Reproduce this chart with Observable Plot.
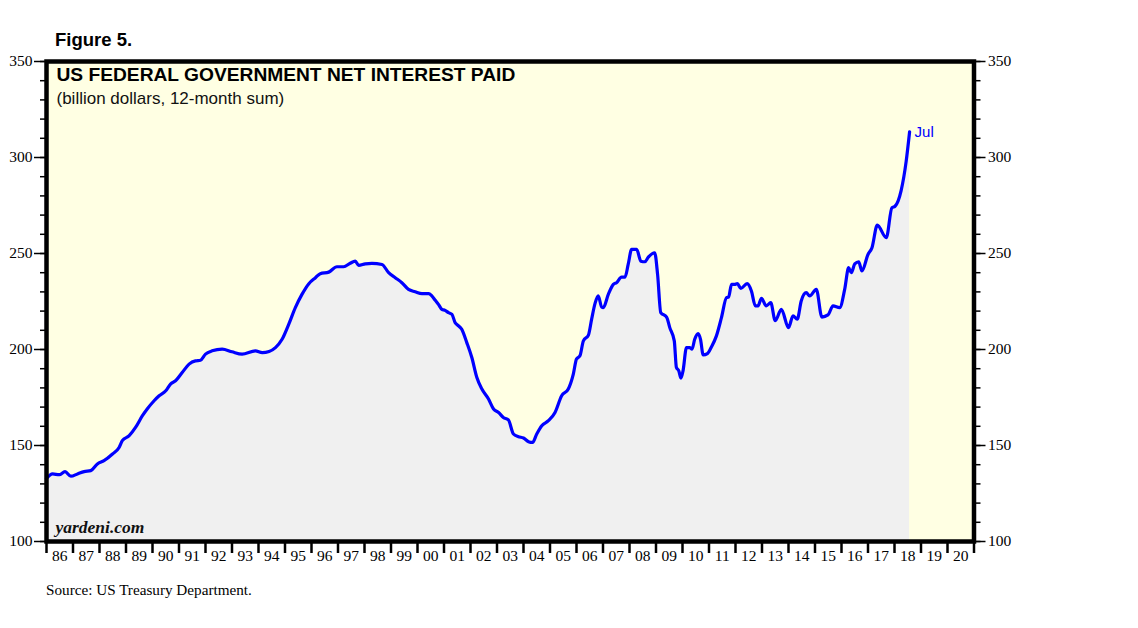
<!DOCTYPE html>
<html>
<head>
<meta charset="utf-8">
<script src="https://cdn.jsdelivr.net/npm/d3@7"></script>
<script src="https://cdn.jsdelivr.net/npm/@observablehq/plot@0.6"></script>
<style>
  html, body { margin: 0; padding: 0; background: white; }
  #wrap { position: relative; width: 1138px; height: 628px; }
  #fig { position: absolute; left: 55px; top: 31px; font: bold 18.5px "Liberation Sans", Arial, sans-serif; line-height: 1; color: #000; }
  #chart { position: absolute; left: 0; top: 0; }
  #source { position: absolute; left: 46px; top: 582px; font: 15.2px "Liberation Serif", "Times New Roman", serif; line-height: 1; color: #000; }
</style>
</head>
<body>
<div id="wrap">
  <div id="chart"></div>
  <div id="fig">Figure 5.</div>
  <div id="source">Source: US Treasury Department.</div>
</div>
<script>
// Decimal year of each reading
const years = [
  1986.00, 1986.23, 1986.48, 1986.70, 1986.92, 1987.17, 1987.42, 1987.67, 1987.92, 1988.17,
  1988.49, 1988.74, 1988.86, 1989.12, 1989.36, 1989.62, 1989.80, 1990.06, 1990.25, 1990.50,
  1990.68, 1990.87, 1991.12, 1991.38, 1991.62, 1991.81, 1992.00, 1992.25, 1992.63, 1993.00,
  1993.38, 1993.88, 1994.14, 1994.40, 1994.64, 1994.89, 1995.14, 1995.39, 1995.64, 1995.90,
  1996.15, 1996.33, 1996.65, 1996.96, 1997.21, 1997.46, 1997.65, 1997.78, 1998.03, 1998.28,
  1998.66, 1998.91, 1999.16, 1999.41, 1999.66, 1999.91, 2000.17, 2000.42, 2000.54, 2000.67,
  2000.79, 2000.92, 2001.04, 2001.17, 2001.30, 2001.42, 2001.48, 2001.67, 2001.86, 2002.05,
  2002.24, 2002.43, 2002.68, 2002.87, 2003.06, 2003.24, 2003.43, 2003.62, 2003.81, 2004.00,
  2004.19, 2004.34, 2004.50, 2004.69, 2004.94, 2005.19, 2005.44, 2005.69, 2005.88, 2006.00,
  2006.13, 2006.26, 2006.45, 2006.57, 2006.70, 2006.82, 2006.95, 2007.01, 2007.20, 2007.39,
  2007.51, 2007.70, 2007.83, 2007.95, 2008.08, 2008.27, 2008.43, 2008.58, 2008.71, 2008.95,
  2009.06, 2009.18, 2009.40, 2009.52, 2009.69, 2009.77, 2009.86, 2009.94, 2010.02, 2010.15,
  2010.27, 2010.36, 2010.46, 2010.59, 2010.68, 2010.78, 2010.94, 2011.09, 2011.28, 2011.47,
  2011.66, 2011.74, 2011.85, 2011.97, 2012.07, 2012.20, 2012.44, 2012.60, 2012.75, 2012.85,
  2012.98, 2013.16, 2013.33, 2013.50, 2013.73, 2014.00, 2014.17, 2014.33, 2014.48, 2014.67,
  2014.80, 2015.05, 2015.26, 2015.49, 2015.68, 2015.93, 2016.12, 2016.27, 2016.37, 2016.50,
  2016.65, 2016.77, 2017.00, 2017.15, 2017.35, 2017.69, 2017.90, 2018.02, 2018.25, 2018.44,
  2018.57
];
// Net interest paid, billion dollars, 12-month sum
const values = [
  132.8, 135.2, 134.8, 136.4, 134.0, 135.2, 136.4, 136.9, 140.4, 142.1,
  145.6, 149.0, 152.5, 155.1, 159.4, 165.5, 169.0, 173.3, 175.9, 178.5,
  182.0, 183.7, 188.0, 192.4, 194.1, 194.4, 197.6, 199.3, 200.2, 198.8,
  197.6, 199.3, 198.4, 199.0, 201.0, 205.3, 213.1, 221.8, 228.7, 234.3,
  237.4, 239.5, 240.3, 243.1, 243.1, 244.9, 246.0, 243.8, 244.6, 244.9,
  244.3, 240.0, 237.4, 234.8, 231.3, 230.1, 229.1, 229.1, 227.9, 225.6,
  223.5, 220.9, 220.4, 219.2, 218.3, 214.0, 213.1, 210.5, 203.6, 195.8,
  185.4, 179.4, 174.2, 169.0, 167.2, 164.6, 163.3, 156.0, 154.6, 153.9,
  152.0, 151.6, 156.0, 160.3, 162.9, 167.2, 175.9, 179.4, 187.2, 195.0,
  196.7, 204.5, 207.5, 215.7, 224.0, 227.9, 222.1, 221.8, 228.7, 233.9,
  234.8, 237.7, 237.7, 244.3, 252.1, 252.1, 246.0, 245.7, 248.1, 250.4,
  239.1, 219.2, 216.9, 211.4, 204.5, 190.6, 188.9, 185.1, 188.9, 201.0,
  201.0, 200.2, 205.3, 208.3, 205.3, 197.2, 197.9, 201.3, 207.1, 216.6,
  227.0, 227.3, 233.9, 233.9, 234.3, 231.8, 234.3, 230.5, 222.7, 222.7,
  226.7, 222.7, 224.4, 215.0, 220.9, 211.4, 217.5, 215.8, 225.3, 229.6,
  227.9, 231.3, 216.9, 218.0, 222.7, 221.8, 231.3, 242.6, 240.0, 244.6,
  245.7, 240.9, 249.5, 253.0, 264.8, 258.2, 273.8, 274.6, 282.8, 298.0,
  313.4
];
const lastLabel = "Jul";
const yMajor = [100, 150, 200, 250, 300, 350];
const yMinor = d3.range(100, 351, 10);
const xBoundaries = d3.range(1986, 2022);
const xLabelYears = d3.range(1986, 2021);

const data = years.map((x, i) => ({year: x, value: values[i]}));
const last = data[data.length - 1];

const serif = "Liberation Serif, Times New Roman, serif";
const sans = "Liberation Sans, Arial, sans-serif";

const chart = Plot.plot({
  width: 1138,
  height: 575,
  marginTop: 61,
  marginBottom: 34,
  marginLeft: 46,
  marginRight: 164.5,
  style: {fontFamily: serif, fontSize: "15px", color: "#000", background: "transparent", overflow: "visible"},
  x: {domain: [1986, 2021], label: null},
  y: {domain: [100, 350], label: null},
  marks: [
    Plot.frame({fill: "#ffffe3", stroke: null}),
    Plot.areaY(data, {x: "year", y1: 100, y2: "value", fill: "#f0f0f0", curve: "monotone-x"}),
    Plot.lineY(data, {x: "year", y: "value", stroke: "#0000ff", strokeWidth: 3.2, strokeLinejoin: "round", curve: "monotone-x"}),
    Plot.text([lastLabel], {x: last.year, y: last.value, dx: 5, textAnchor: "start", fill: "#0000ff", fontFamily: sans, fontSize: 15}),
    Plot.text(["US FEDERAL GOVERNMENT NET INTEREST PAID"], {frameAnchor: "top-left", dx: 10, dy: 6, lineAnchor: "top", textAnchor: "start", fontFamily: sans, fontWeight: "bold", fontSize: 19.2, fill: "#000"}),
    Plot.text(["(billion dollars, 12-month sum)"], {frameAnchor: "top-left", dx: 10, dy: 30, lineAnchor: "top", textAnchor: "start", fontFamily: sans, fontSize: 17, fill: "#111"}),
    Plot.text(["yardeni.com"], {frameAnchor: "bottom-left", dx: 9, dy: -9, lineAnchor: "bottom", textAnchor: "start", fontFamily: serif, fontWeight: "bold", fontStyle: "italic", fontSize: 17.5, fill: "#111"}),
    // Y axes, left and right
    Plot.axisY({anchor: "left", ticks: yMinor, tickSize: 6, tickFormat: () => "", strokeWidth: 1.5, label: null}),
    Plot.axisY({anchor: "left", ticks: yMajor, tickSize: 12, tickPadding: 2, strokeWidth: 1.5, label: null, fontSize: 15.5}),
    Plot.axisY({anchor: "right", ticks: yMinor, tickSize: 6, tickFormat: () => "", strokeWidth: 1.5, label: null}),
    Plot.axisY({anchor: "right", ticks: yMajor, tickSize: 11, tickPadding: 3, strokeWidth: 1.5, label: null, fontSize: 15.5}),
    // X axis: boundary ticks and centred year labels
    Plot.axisX({anchor: "bottom", ticks: xBoundaries, tickSize: 12, tickFormat: () => "", strokeWidth: 2.5, label: null}),
    Plot.axisX({anchor: "bottom", ticks: xLabelYears.map(y => y + 0.5), tickSize: 0, tickPadding: 8, tickFormat: d => String(Math.floor(d) % 100).padStart(2, "0"), label: null, fontSize: 15.5}),
    Plot.frame({stroke: "#000", strokeWidth: 4.5})
  ]
});
document.getElementById("chart").appendChild(chart);
</script>
</body>
</html>
